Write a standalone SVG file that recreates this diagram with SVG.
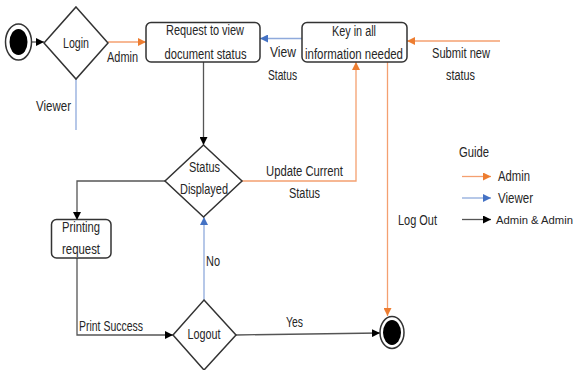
<svg xmlns="http://www.w3.org/2000/svg" width="577" height="370" viewBox="0 0 577 370">
  <style>
    text { font-family: "Liberation Sans", Arial, sans-serif; font-size: 14px; fill: #262626; text-anchor: middle; }
    .lbl { text-anchor: start; }
    .small { font-size: 11.5px; }
    .node { fill: #fff; stroke: #333; stroke-width: 1.5; }
    .orange { fill: none; stroke: #F4A070; stroke-width: 1.3; }
    .blue { fill: none; stroke: #8FAADC; stroke-width: 1.3; }
    .black { fill: none; stroke: #555; stroke-width: 1.3; }
  </style>
  <defs>
    <marker id="ahOrange" viewBox="0 0 10 10" refX="10" refY="5" markerWidth="8" markerHeight="8" markerUnits="userSpaceOnUse" orient="auto">
      <path d="M0,0 L10,5 L0,10 z" fill="#ED7D31"/>
    </marker>
    <marker id="ahBlue" viewBox="0 0 10 10" refX="10" refY="5" markerWidth="8" markerHeight="8" markerUnits="userSpaceOnUse" orient="auto">
      <path d="M0,0 L10,5 L0,10 z" fill="#4472C4"/>
    </marker>
    <marker id="ahBlack" viewBox="0 0 10 10" refX="10" refY="5" markerWidth="8" markerHeight="8" markerUnits="userSpaceOnUse" orient="auto">
      <path d="M0,0 L10,5 L0,10 z" fill="#000"/>
    </marker>
  </defs>

  <rect width="577" height="370" fill="#fff"/>

  <!-- connectors -->
  <g id="connectors">
    <path class="black" d="M32,42 L44,42" marker-end="url(#ahBlack)"/>
    <path class="orange" d="M108,42 L146,42" marker-end="url(#ahOrange)"/>
    <path class="blue" d="M76,79 L76,130"/>
    <path class="blue" d="M302,38.5 L260,38.5" marker-end="url(#ahBlue)"/>
    <path class="orange" d="M500,41 L407,41" marker-end="url(#ahOrange)"/>
    <path class="black" d="M203.5,62 L203.5,145" marker-end="url(#ahBlack)"/>
    <path class="orange" d="M242,181 L356,181 L356,62" marker-end="url(#ahOrange)"/>
    <path class="orange" d="M387.5,62 L387.5,316" marker-end="url(#ahOrange)"/>
    <path class="black" d="M165,181 L77,181 L77,220" marker-end="url(#ahBlack)"/>
    <path class="black" d="M77,258 L77,335 L173,335" marker-end="url(#ahBlack)"/>
    <path class="blue" d="M204,300 L204,217" marker-end="url(#ahBlue)"/>
    <path class="black" d="M236,335 L380,333" marker-end="url(#ahBlack)"/>
    <!-- legend arrows -->
    <path class="orange" d="M462,176.5 L491,176.5" marker-end="url(#ahOrange)"/>
    <path class="blue" d="M462,198 L491,198" marker-end="url(#ahBlue)"/>
    <path class="black" d="M462,219.5 L491,219.5" marker-end="url(#ahBlack)"/>
  </g>

  <!-- start node -->
  <g id="start">
    <ellipse cx="18.5" cy="42" rx="13" ry="18" fill="#fff" stroke="#333" stroke-width="1.5"/>
    <ellipse cx="18.5" cy="42" rx="9" ry="13" fill="#000"/>
  </g>

  <g id="login">
    <polygon class="node" points="76,7 108,43 76,79 44,43"/>
    <text x="76" y="48" textLength="26" lengthAdjust="spacingAndGlyphs">Login</text>
  </g>

  <g id="request">
    <rect class="node" x="146" y="22.5" width="114" height="39.5" rx="5"/>
    <text x="205" y="35" textLength="78" lengthAdjust="spacingAndGlyphs">Request to view</text>
    <text x="205.5" y="58.5" textLength="82" lengthAdjust="spacingAndGlyphs">document status</text>
  </g>

  <g id="keyin">
    <rect class="node" x="302" y="22.5" width="105" height="39.5" rx="5"/>
    <text x="354" y="35.5" textLength="44" lengthAdjust="spacingAndGlyphs">Key in all</text>
    <text x="354" y="59" textLength="98" lengthAdjust="spacingAndGlyphs">information needed</text>
  </g>

  <g id="status">
    <polygon class="node" points="203.5,145 242,181 203.5,217 165,181"/>
    <text x="204.5" y="171.5" textLength="31" lengthAdjust="spacingAndGlyphs">Status</text>
    <text x="204" y="193.5" textLength="48" lengthAdjust="spacingAndGlyphs">Displayed</text>
  </g>

  <g id="printing">
    <rect class="node" x="51.5" y="219.5" width="59.5" height="38.5" rx="5"/>
    <text x="81" y="231.5" textLength="38" lengthAdjust="spacingAndGlyphs">Printing</text>
    <text x="81" y="253.5" textLength="38" lengthAdjust="spacingAndGlyphs">request</text>
  </g>

  <g id="logout">
    <polygon class="node" points="204,300 236,335 204,370 173,335"/>
    <text x="204" y="338.5" textLength="33" lengthAdjust="spacingAndGlyphs">Logout</text>
  </g>

  <g id="end">
    <ellipse cx="392" cy="332.5" rx="12" ry="16" fill="#fff" stroke="#333" stroke-width="1.5"/>
    <ellipse cx="392" cy="332.5" rx="9" ry="12.5" fill="#000"/>
  </g>

  <!-- edge labels -->
  <g id="labels">
    <text x="122.5" y="62" textLength="31" lengthAdjust="spacingAndGlyphs">Admin</text>
    <text x="53.5" y="111" textLength="35" lengthAdjust="spacingAndGlyphs">Viewer</text>
    <text x="283" y="57" textLength="26" lengthAdjust="spacingAndGlyphs">View</text>
    <text x="282.5" y="79.5" textLength="29" lengthAdjust="spacingAndGlyphs">Status</text>
    <text x="461" y="57.5" textLength="58" lengthAdjust="spacingAndGlyphs">Submit new</text>
    <text x="460.5" y="80" textLength="29" lengthAdjust="spacingAndGlyphs">status</text>
    <text x="304.5" y="175.5" textLength="77" lengthAdjust="spacingAndGlyphs">Update Current</text>
    <text x="304.5" y="198" textLength="31" lengthAdjust="spacingAndGlyphs">Status</text>
    <text x="417.5" y="224.5" textLength="39" lengthAdjust="spacingAndGlyphs">Log Out</text>
    <text x="213" y="266" textLength="14" lengthAdjust="spacingAndGlyphs">No</text>
    <text x="111" y="331" textLength="64" lengthAdjust="spacingAndGlyphs">Print Success</text>
    <text x="294.5" y="327" textLength="17" lengthAdjust="spacingAndGlyphs">Yes</text>
  </g>

  <!-- legend -->
  <g id="legend">
    <text x="474" y="157" textLength="30" lengthAdjust="spacingAndGlyphs">Guide</text>
    <text class="lbl" x="498" y="181" textLength="32" lengthAdjust="spacingAndGlyphs">Admin</text>
    <text class="lbl" x="498" y="203" textLength="35" lengthAdjust="spacingAndGlyphs">Viewer</text>
    <text class="lbl small" x="496" y="224" textLength="77" lengthAdjust="spacingAndGlyphs">Admin &amp; Admin</text>
  </g>
</svg>
